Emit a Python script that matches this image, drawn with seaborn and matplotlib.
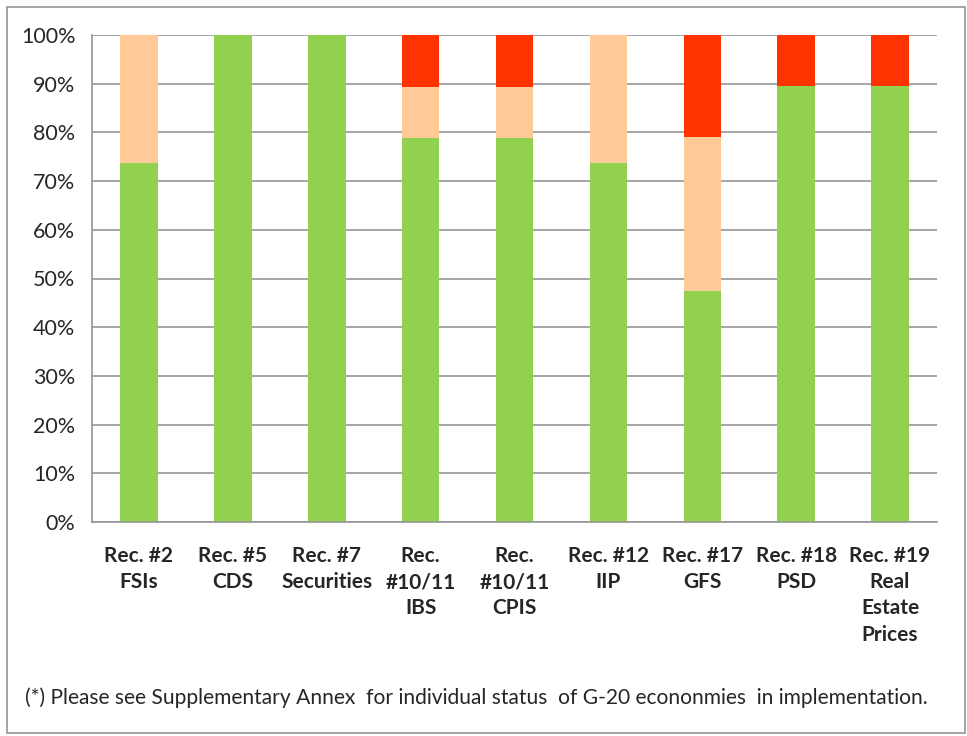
import matplotlib
matplotlib.use("Agg")
import matplotlib.pyplot as plt
import seaborn as sns
import numpy as np
from matplotlib.patches import Rectangle

categories = ["Rec. #2\nFSIs", "Rec. #5\nCDS", "Rec. #7\nSecurities", "Rec.\n#10/11\nIBS",
              "Rec.\n#10/11\nCPIS", "Rec. #12\nIIP", "Rec. #17\nGFS", "Rec. #18\nPSD",
              "Rec. #19\nReal\nEstate\nPrices"]
green_vals = [73.7, 100.0, 100.0, 78.9, 78.9, 73.7, 47.4, 89.5, 89.5]
peach_vals = [26.3, 0.0, 0.0, 10.5, 10.5, 26.3, 31.6, 0.0, 0.0]
red_vals = [0.0, 0.0, 0.0, 10.5, 10.5, 0.0, 21.1, 10.5, 10.5]
yticks = [0, 10, 20, 30, 40, 50, 60, 70, 80, 90, 100]
footnote = "(*) Please see Supplementary Annex  for individual status  of G-20 econonmies  in implementation."

sns.set_style("white")
plt.rcParams['font.family'] = ['Lato', 'DejaVu Sans']

fig = plt.figure(figsize=(9.67, 7.36), dpi=100)
ax = fig.add_axes([92/967, 1-522/736, (937-92)/967, (522-35)/736])

g = np.array(green_vals)
p = np.array(peach_vals)
r = np.array(red_vals)

sns.barplot(x=categories, y=g, color="#92D050", width=0.4, linewidth=0, saturation=1, ax=ax)
sns.barplot(x=categories, y=p, bottom=g, color="#FFCA97", width=0.4, linewidth=0, saturation=1, ax=ax)
sns.barplot(x=categories, y=r, bottom=g + p, color="#FF3300", width=0.4, linewidth=0, saturation=1, ax=ax)

ax.set_ylim(0, 100)
ax.set_xlim(-0.5, len(categories) - 0.5)
ax.set_yticks(yticks)
ax.set_yticklabels([f"{v}%" for v in yticks], fontsize=15.5)
ax.yaxis.grid(True, color="#969696", linewidth=1.2)
ax.set_axisbelow(True)

# x ticks: labels at centres, tick marks at boundaries
ax.set_xticks(range(len(categories)))
ax.set_xticklabels(categories, fontsize=15, fontweight="bold", linespacing=1.38, va="top")
ax.set_xticks(np.arange(-0.5, len(categories), 1.0), minor=True)
ax.tick_params(axis="x", which="major", length=0, pad=17.5)
ax.tick_params(axis="x", which="minor", length=5, color="#969696", width=1.2, direction="out")
ax.tick_params(axis="y", length=5, color="#969696", width=1.2, direction="out", pad=7)

for s in ["top", "right"]:
    ax.spines[s].set_visible(False)
for s in ["left", "bottom"]:
    ax.spines[s].set_color("#969696")
    ax.spines[s].set_linewidth(1.2)
ax.set_xlabel("")
ax.set_ylabel("")

fig.text(25/967, 1-698/736, footnote, fontsize=15.1, ha="left", va="center")

fig.patches.append(Rectangle((7/967, 1-733/736), (965-7)/967, (733-7)/736,
                             transform=fig.transFigure, fill=False,
                             edgecolor="#969696", linewidth=1.2))

fig.savefig("out.png", dpi=100)
